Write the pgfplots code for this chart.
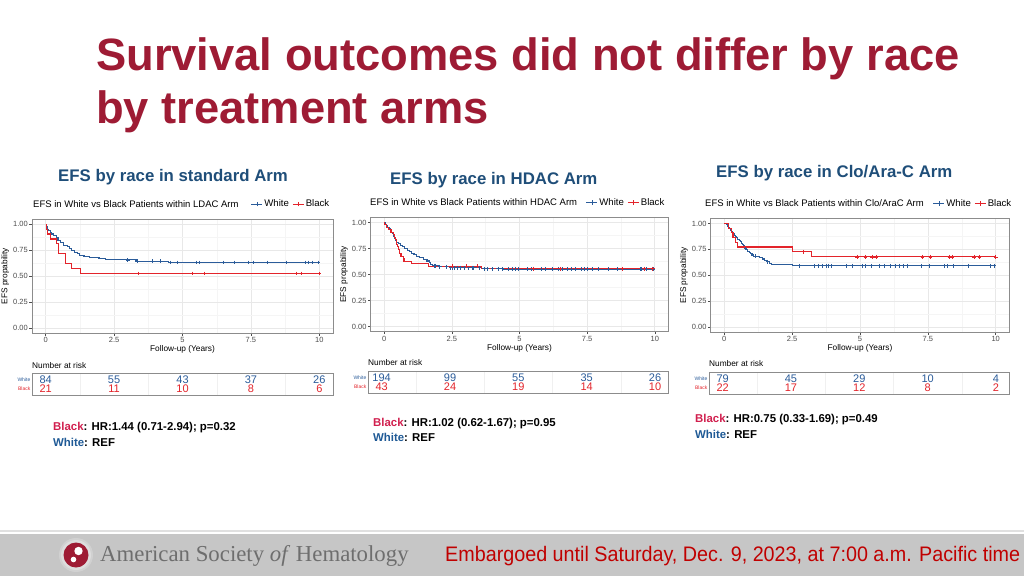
\documentclass[border=0pt]{standalone}
\usepackage{pgfplots}
\pgfplotsset{compat=1.18}
\usepackage{fontspec}
\setmainfont{Liberation Sans}
\newfontfamily\ashserif{Liberation Serif}
\definecolor{titlered}{HTML}{9E1B34}
\definecolor{subblue}{HTML}{1F4E79}
\definecolor{kmblue}{HTML}{2B5C9A}
\definecolor{kmred}{HTML}{E3242B}
\definecolor{hrred}{HTML}{D11F4E}
\definecolor{hrblue}{HTML}{1F5A96}
\definecolor{framegray}{HTML}{8C8C8C}
\definecolor{tickgray}{HTML}{4D4D4D}
\definecolor{footgray}{HTML}{C6C6C6}
\definecolor{ashgray}{HTML}{6E6E6E}
\definecolor{embred}{HTML}{C00000}
\newcommand\fs[1]{\fontsize{#1}{#1}\selectfont}
\pgfplotsset{
  km/.style={scale only axis, xmin=-0.5, xmax=10.5, ymin=-0.05, ymax=1.05,
    xtick={0,2.5,5,7.5,10}, xticklabels={0,2.5,5,7.5,10},
    ytick={0,0.25,0.5,0.75,1}, yticklabels={0.00,0.25,0.50,0.75,1.00},
    minor xtick={1.25,3.75,6.25,8.75}, minor ytick={0.125,0.375,0.625,0.875},
    grid=both, major grid style={draw=black!9, line width=0.6pt},
    minor grid style={draw=black!4, line width=0.4pt},
    axis line style={framegray, line width=0.8pt},
    tick align=outside, major tick length=2.5pt, minor tick length=0pt,
    tick style={tickgray, line width=0.5pt},
    xtick pos=bottom, ytick pos=left,
    ticklabel style={text=tickgray, font=\fs{7.5}, inner sep=1.5pt},
    xlabel={Follow-up (Years)}, ylabel={EFS propability},
    label style={font=\fs{8.3}},
    xlabel style={yshift=2pt}, ylabel style={yshift=-1pt},
    legend style={draw=none, fill=none, font=\fs{9.6}, legend columns=-1, anchor=east,
      inner sep=0pt, nodes={inner sep=1.4pt},
      /tikz/every even column/.append style={column sep=2pt}},
    legend image code/.code={\draw[#1] (0pt,0pt)--(11pt,0pt); \draw[#1, line width=0.7pt] (5.5pt,-2.3pt)--(5.5pt,2.3pt);},
  },
  wline/.style={const plot, kmblue, line width=1.1pt},
  bline/.style={const plot, kmred, line width=1.1pt},
  wcens/.style={only marks, mark=+, mark size=1.9pt, kmblue, mark options={line width=0.6pt}, forget plot},
  bcens/.style={only marks, mark=+, mark size=1.9pt, kmred, mark options={line width=0.6pt}, forget plot},
  risk/.style={scale only axis, xmin=-0.5, xmax=10.5, ymin=0, ymax=2,
    xtick={0,2.5,5,7.5,10}, xticklabels={}, minor xtick={1.25,3.75,6.25,8.75},
    xminorgrids=true, minor grid style={draw=black!6, line width=0.4pt},
    ytick={0.55,1.4}, yticklabels={\textcolor{kmred}{Black},\textcolor{kmblue}{White}},
    major tick length=0pt, minor tick length=0pt,
    axis line style={framegray, line width=0.7pt},
    yticklabel style={font=\fs{5}, inner sep=1.5pt}},
  wnum/.style={only marks, mark=none, nodes near coords,
    point meta=explicit symbolic, nodes near coords align=center,
    every node near coord/.append style={font=\fs{11}, text=kmblue, inner sep=0pt}},
  bnum/.style={only marks, mark=none, nodes near coords,
    point meta=explicit symbolic, nodes near coords align=center,
    every node near coord/.append style={font=\fs{11}, text=kmred, inner sep=0pt}},
}
\begin{document}
\begin{tikzpicture}[x=1pt,y=1pt]
\useasboundingbox (0,-576) rectangle (1024,0);
\fill[white] (0,-576) rectangle (1024,0);

% Title
\node[anchor=base west, inner sep=0, font=\bfseries\fs{45.3}, text=titlered] at (96,-70) {Survival outcomes did not differ by race};
\node[anchor=base west, inner sep=0, font=\bfseries\fs{45.3}, text=titlered] at (96,-123) {by treatment arms};

% Subtitles
\node[anchor=base west, inner sep=0, font=\bfseries\fs{16.8}, text=subblue] at (58,-181) {EFS by race in standard Arm};
\node[anchor=base west, inner sep=0, font=\bfseries\fs{16.8}, text=subblue] at (390,-184) {EFS by race in HDAC Arm};
\node[anchor=base west, inner sep=0, font=\bfseries\fs{16.8}, text=subblue] at (716,-177) {EFS by race in Clo/Ara-C Arm};

% Plot titles
\node[anchor=west, inner sep=0, font=\fs{9.5}] at (33,-204) {EFS in White vs Black Patients within LDAC Arm};
\node[anchor=west, inner sep=0, font=\fs{9.5}] at (370,-202) {EFS in White vs Black Patients within HDAC Arm};
\node[anchor=west, inner sep=0, font=\fs{9.5}] at (705,-203) {EFS in White vs Black Patients within Clo/AraC Arm};

% ---------- Panel 1: LDAC ----------
\begin{axis}[km, at={(32pt,-333pt)}, anchor=south west, width=301pt, height=114pt,
  legend style={at={(0.993,1.13)}}]
\addplot[wline] coordinates {(0,1) (0.02,0.976) (0.05,0.952) (0.1,0.94) (0.16,0.917) (0.2,0.905) (0.3,0.893) (0.38,0.869) (0.45,0.845) (0.55,0.821) (0.65,0.798) (0.8,0.786) (0.88,0.762) (0.95,0.75) (1.05,0.726) (1.15,0.714) (1.25,0.702) (1.4,0.69) (1.6,0.679) (1.95,0.667) (2.2,0.655) (3.3,0.643) (4.5,0.631) (10,0.631)};
\addlegendentry{White}
\addplot[bline] coordinates {(0,1) (0.04,0.952) (0.08,0.905) (0.16,0.857) (0.40,0.81) (0.46,0.762) (0.48,0.714) (0.72,0.667) (0.74,0.619) (0.95,0.571) (1.28,0.524) (10,0.524)};
\addlegendentry{Black}
\addplot[wcens] coordinates {(3.0,0.655) (3.35,0.643) (3.9,0.643) (4.2,0.643) (4.55,0.631) (4.8,0.631) (5.5,0.631) (5.6,0.631) (6.5,0.631) (6.9,0.631) (7.4,0.631) (7.6,0.631) (8.1,0.631) (8.8,0.631) (9.5,0.631) (9.6,0.631) (9.75,0.631) (9.95,0.631)};
\addplot[bcens] coordinates {(3.4,0.524) (5.35,0.524) (5.8,0.524) (9.15,0.524) (9.35,0.524) (10,0.524)};
\end{axis}

% ---------- Panel 2: HDAC ----------
\begin{axis}[km, at={(370.7pt,-331.7pt)}, anchor=south west, width=297.6pt, height=114.4pt,
  legend style={at={(0.992,1.13)}}]
\addplot[wline] coordinates {(0,1) (0.03,0.985) (0.08,0.97) (0.12,0.955) (0.18,0.94) (0.22,0.925) (0.27,0.905) (0.3,0.89) (0.33,0.87) (0.38,0.85) (0.42,0.83) (0.47,0.81) (0.53,0.795) (0.6,0.78) (0.68,0.765) (0.76,0.75) (0.85,0.735) (0.92,0.72) (1.0,0.705) (1.1,0.69) (1.2,0.675) (1.32,0.66) (1.45,0.645) (1.58,0.63) (1.68,0.615) (1.72,0.6) (1.78,0.585) (2.0,0.575) (2.4,0.565) (3.6,0.555) (4.4,0.55) (10,0.55)};
\addlegendentry{White}
\addplot[bline] coordinates {(0,1) (0.02,0.977) (0.08,0.953) (0.15,0.93) (0.25,0.907) (0.35,0.884) (0.38,0.86) (0.41,0.837) (0.44,0.814) (0.47,0.791) (0.5,0.767) (0.52,0.744) (0.55,0.721) (0.58,0.698) (0.62,0.674) (0.7,0.651) (0.73,0.628) (1.0,0.605) (1.65,0.581) (3.6,0.556) (10,0.556)};
\addlegendentry{Black}
\addplot[wcens] coordinates {(1.85,0.585) (1.9,0.585) (2.05,0.575) (2.3,0.575) (2.45,0.565) (2.5,0.565) (2.6,0.565) (2.7,0.565) (2.8,0.565) (2.95,0.565) (3.1,0.565) (3.25,0.565) (3.3,0.565) (3.5,0.565) (3.7,0.555) (3.8,0.555) (4.0,0.555) (4.2,0.555) (4.35,0.555) (4.6,0.55) (4.75,0.55) (4.85,0.55) (4.95,0.55) (5.3,0.55) (5.45,0.55) (5.8,0.55) (5.95,0.55) (6.2,0.55) (6.45,0.55) (6.6,0.55) (6.75,0.55) (6.9,0.55) (7.05,0.55) (7.3,0.55) (7.4,0.55) (7.5,0.55) (7.7,0.55) (7.9,0.55) (8.3,0.55) (8.6,0.55) (9.45,0.55) (9.5,0.55) (9.7,0.55) (9.95,0.55)};
\addplot[bcens] coordinates {(2.5,0.581) (3.05,0.581) (3.45,0.581) (5.5,0.556) (6.5,0.556) (8.8,0.556) (9.6,0.556) (9.9,0.556)};
\end{axis}

% ---------- Panel 3: Clo/AraC ----------
\begin{axis}[km, at={(710.7pt,-332.3pt)}, anchor=south west, width=298.6pt, height=114pt,
  legend style={at={(1.012,1.13)}}]
\addplot[wline] coordinates {(0,1) (0.08,0.987) (0.12,0.975) (0.16,0.962) (0.2,0.949) (0.24,0.937) (0.28,0.924) (0.3,0.911) (0.34,0.899) (0.38,0.886) (0.42,0.873) (0.46,0.861) (0.5,0.848) (0.55,0.835) (0.6,0.823) (0.64,0.81) (0.67,0.797) (0.7,0.785) (0.73,0.772) (0.76,0.759) (0.8,0.747) (0.86,0.734) (0.92,0.721) (0.98,0.709) (1.02,0.696) (1.08,0.683) (1.3,0.67) (1.4,0.657) (1.48,0.644) (1.58,0.631) (1.65,0.618) (1.75,0.605) (2.5,0.592) (10,0.592)};
\addlegendentry{White}
\addplot[bline] coordinates {(0,1) (0.17,0.955) (0.25,0.909) (0.32,0.864) (0.4,0.818) (0.48,0.773) (2.52,0.727) (3.2,0.678) (10,0.678)};
\addlegendentry{Black}
\addplot[wcens] coordinates {(0.78,0.759) (1.15,0.683) (1.6,0.631) (2.75,0.592) (3.3,0.592) (3.45,0.592) (3.6,0.592) (3.75,0.592) (3.85,0.592) (3.95,0.592) (4.5,0.592) (4.7,0.592) (5.1,0.592) (5.2,0.592) (5.4,0.592) (5.7,0.592) (5.9,0.592) (6.1,0.592) (6.3,0.592) (6.45,0.592) (6.6,0.592) (6.75,0.592) (7.25,0.592) (7.55,0.592) (8.1,0.592) (8.2,0.592) (8.45,0.592) (9.0,0.592) (9.8,0.592) (9.95,0.592)};
\addplot[bcens] coordinates {(2.9,0.727) (4.9,0.678) (5.2,0.678) (5.45,0.678) (5.6,0.678) (7.3,0.678) (7.6,0.678) (8.3,0.678) (8.4,0.678) (9.2,0.678) (9.4,0.678) (10,0.678)};
\end{axis}

% ---------- Risk tables ----------
\node[anchor=west, inner sep=0, font=\fs{8.3}] at (32,-366) {Number at risk};
\begin{axis}[risk, at={(32pt,-395pt)}, anchor=south west, width=301pt, height=21.7pt]
\addplot[wnum] coordinates {(0,1.4) [84] (2.5,1.4) [55] (5,1.4) [43] (7.5,1.4) [37] (10,1.4) [26]};
\addplot[bnum] coordinates {(0,0.55) [21] (2.5,0.55) [11] (5,0.55) [10] (7.5,0.55) [8] (10,0.55) [6]};
\end{axis}

\node[anchor=west, inner sep=0, font=\fs{8.3}] at (368,-363) {Number at risk};
\begin{axis}[risk, at={(368pt,-393pt)}, anchor=south west, width=300.7pt, height=21.7pt]
\addplot[wnum] coordinates {(0,1.4) [194] (2.5,1.4) [99] (5,1.4) [55] (7.5,1.4) [35] (10,1.4) [26]};
\addplot[bnum] coordinates {(0,0.55) [43] (2.5,0.55) [24] (5,0.55) [19] (7.5,0.55) [14] (10,0.55) [10]};
\end{axis}

\node[anchor=west, inner sep=0, font=\fs{8.3}] at (709,-364) {Number at risk};
\begin{axis}[risk, at={(709pt,-394pt)}, anchor=south west, width=300.6pt, height=21.7pt]
\addplot[wnum] coordinates {(0,1.4) [79] (2.5,1.4) [45] (5,1.4) [29] (7.5,1.4) [10] (10,1.4) [4]};
\addplot[bnum] coordinates {(0,0.55) [22] (2.5,0.55) [17] (5,0.55) [12] (7.5,0.55) [8] (10,0.55) [2]};
\end{axis}

% ---------- HR text ----------
\node[anchor=west, inner sep=0, font=\bfseries\fs{11.4}] at (53,-428) {\textcolor{hrred}{Black}: HR:1.44 (0.71-2.94); p=0.32};
\node[anchor=west, inner sep=0, font=\bfseries\fs{11.4}] at (53,-442) {\textcolor{hrblue}{White}: REF};
\node[anchor=west, inner sep=0, font=\bfseries\fs{11.4}] at (373,-424) {\textcolor{hrred}{Black}: HR:1.02 (0.62-1.67); p=0.95};
\node[anchor=west, inner sep=0, font=\bfseries\fs{11.4}] at (373,-437) {\textcolor{hrblue}{White}: REF};
\node[anchor=west, inner sep=0, font=\bfseries\fs{11.4}] at (695,-420) {\textcolor{hrred}{Black}: HR:0.75 (0.33-1.69); p=0.49};
\node[anchor=west, inner sep=0, font=\bfseries\fs{11.4}] at (695,-434) {\textcolor{hrblue}{White}: REF};

% ---------- Footer ----------
\draw[black!12, line width=1.5pt] (0,-531) -- (1024,-531);
\fill[footgray] (0,-576) rectangle (1024,-534);
\fill[black!18] (76,-555) circle (17);
\fill[footgray!60!white] (76,-555) circle (15);
\fill[titlered] (76,-555) circle (12.5);
\fill[white] (78.5,-551) circle (4.2);
\fill[white] (73.5,-559.5) circle (2.8);
\node[anchor=west, inner sep=0, font=\ashserif\fs{22.8}, text=ashgray] at (100,-556) {American Society \textit{of} Hematology};
\node[anchor=west, inner sep=0, font=\fs{21}, text=embred] at (445,-556) {\scalebox{0.94}[1]{Embargoed until Saturday, Dec. 9, 2023, at 7:00 a.m. Pacific time}};
\end{tikzpicture}
\end{document}
